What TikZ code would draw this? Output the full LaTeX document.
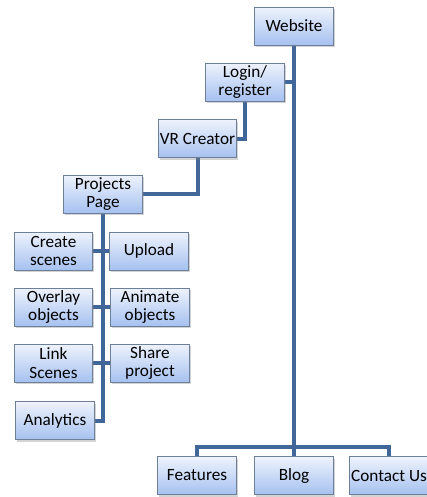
\documentclass[tikz,border=0pt]{standalone}
\usepackage{fontspec}
\setmainfont{Carlito}
\usetikzlibrary{shadows,backgrounds}
\definecolor{linkblue}{HTML}{41679A}
\definecolor{boxtop}{HTML}{EEF3FC}
\definecolor{boxbot}{HTML}{A6C1F0}
\definecolor{boxedge}{HTML}{6D7F99}
\tikzset{
  pg/.style={draw=boxedge, line width=0.6pt, top color=boxtop, bottom color=boxbot,
    minimum width=59pt, minimum height=28.5pt, inner sep=1pt, align=center,
    font=\fontsize{12.9}{13.7}\selectfont,
    drop shadow={opacity=0.35, shadow xshift=1.2pt, shadow yshift=-1.5pt}},
  link/.style={draw=linkblue, line width=3pt}
}
\begin{document}
\begin{tikzpicture}[x=0.75pt,y=-0.75pt]
\useasboundingbox (0,0) rectangle (427,497);
\node[pg] (web) at (294,26) {Website};
\node[pg] (login) at (245,82) {Login/\\register};
\node[pg] (vr) at (197.5,138.5) {VR Creator};
\node[pg] (proj) at (103,194) {Projects\\Page};
\node[pg] (create) at (53.5,251) {Create\\scenes};
\node[pg] (upload) at (149,251) {Upload};
\node[pg] (overlay) at (53.5,307) {Overlay\\objects};
\node[pg] (animate) at (150,307) {Animate\\objects};
\node[pg] (linksc) at (53.5,363) {Link\\Scenes};
\node[pg] (share) at (150,363) {Share\\project};
\node[pg] (analytics) at (55,420.5) {Analytics};
\node[pg] (features) at (197,475.5) {Features};
\node[pg] (blog) at (294,475.5) {Blog};
\node[pg] (contact) at (389,475.5) {Contact Us};
\coordinate (bus) at (294,447);
\begin{scope}[on background layer]
\draw[link] (web.south) -- (blog.north);
\draw[link] (login.east) -- (login.east -| web.south);
\draw[link] (features.north) |- (bus) -| (contact.north);
\draw[link] (login.south) |- (vr.east);
\draw[link] (vr.south) |- (proj.east);
\draw[link] (proj.south) |- (analytics.east);
\draw[link] (create.east) -- (upload.west);
\draw[link] (overlay.east) -- (animate.west);
\draw[link] (linksc.east) -- (share.west);
\end{scope}
\end{tikzpicture}
\end{document}
